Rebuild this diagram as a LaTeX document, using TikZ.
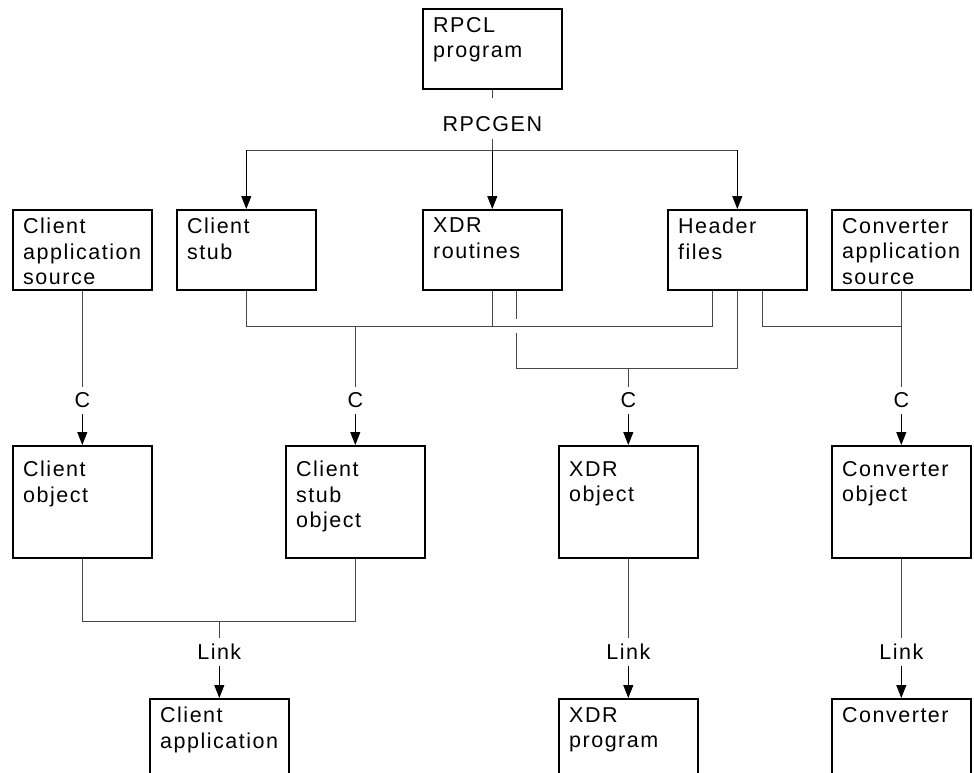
\documentclass[tikz,border=0pt]{standalone}
\usepackage{fontspec}
\setmainfont{Liberation Sans}[LetterSpace=7]
\usetikzlibrary{arrows.meta, positioning, calc}

\begin{document}
\begin{tikzpicture}[x=1pt, y=-1pt,
  txt/.style={anchor=north west, align=left, inner sep=0pt, xshift=11pt, yshift=-9pt, font=\fontsize{21.5}{25.5}\selectfont},
  blk/.style={draw, line width=1.6pt, inner sep=0pt, anchor=north west, minimum width=139pt, minimum height=80pt, label={[txt]north west:{#1}}},
  obj/.style={draw, line width=1.6pt, inner sep=0pt, anchor=north west, minimum width=139pt, minimum height=112pt, label={[txt, yshift=-7pt]north west:{#1}}},
  prog/.style={draw, line width=1.6pt, inner sep=0pt, anchor=north west, minimum width=139pt, minimum height=112pt, label={[txt]north west:{#1}}},
  tag/.style={inner xsep=2pt, inner ysep=6pt, font=\fontsize{21.5}{25.5}\selectfont},
  ln/.style={line width=1pt, draw=black!72},
  arr/.style={line width=1pt, draw=black, -{Triangle[length=13pt, width=10pt]}}
]
  \useasboundingbox (0,0) rectangle (974,772);
  \clip (0,0) rectangle (974,772);

  % generated by rpcgen
  \node[blk={RPCL\\program}] (rpcl) at (422,8) {};
  \node[blk={Client\\application\\source}] (csrc) at (12,209) {};
  \node[blk={Client\\stub}] (stub) at (176,209) {};
  \node[blk={XDR\\routines}] (xdrr) at (422,209) {};
  \node[blk={Header\\files}] (hdr) at (667,209) {};
  \node[blk={Converter\\application\\source}] (vsrc) at (831,209) {};

  % compiled objects
  \node[obj={Client\\object}] (cobj) at (12,445) {};
  \node[obj={Client\\stub\\object}] (sobj) at (285,445) {};
  \node[obj={XDR\\object}] (xobj) at (558,445) {};
  \node[obj={Converter\\object}] (vobj) at (831,445) {};

  % linked programs
  \node[prog={Client\\application}] (capp) at (149,698) {};
  \node[prog={XDR\\program}] (xprog) at (558,698) {};
  \node[prog={Converter}] (vprog) at (831,698) {};

  % rpcgen step
  \node[tag, inner ysep=7pt] (gen) at (rpcl.south |- 0,124.5) {RPCGEN};
  \coordinate (split) at (rpcl.south |- 0,150);
  \draw[ln, shorten >=12pt] (rpcl.south) -- (gen);
  \draw[ln] (gen) -- (split);
  \draw[ln] (stub.north |- split) -- (hdr.north |- split);
  \draw[arr] (stub.north |- split) -- (stub.north);
  \draw[arr] (split) -- (xdrr.north);
  \draw[arr] (hdr.north |- split) -- (hdr.north);

  % C compiles
  \node[tag] (c1) at (csrc.south |- 0,400.5) {C};
  \node[tag] (c2) at (sobj.north |- 0,400.5) {C};
  \node[tag] (c3) at (xobj.north |- 0,400.5) {C};
  \node[tag] (c4) at (vsrc.south |- 0,400.5) {C};

  \coordinate (j1) at (712,326);
  \coordinate (k1) at (516,368);
  \coordinate (k2) at (737,368);
  \coordinate (j3) at (762,326);
  \coordinate (gap1) at (516,319);
  \coordinate (gap2) at (516,333);

  \draw[ln] (csrc.south) -- (c1);
  \draw[ln] (stub.south) -- (stub.south |- j1) -- (j1) -- (j1 |- hdr.south);
  \draw[ln] (xdrr.south) -- (xdrr.south |- j1);
  \draw[ln] (c2 |- j1) -- (c2);
  \draw[ln] (gap1 |- xdrr.south) -- (gap1);
  \draw[ln] (gap2) -- (k1) -- (k2) -- (k2 |- hdr.south);
  \draw[ln] (c3 |- k1) -- (c3);
  \draw[ln] (j3 |- hdr.south) -- (j3) -- (j3 -| vsrc.south);
  \draw[ln] (vsrc.south) -- (c4);
  \draw[arr] (c1) -- (cobj.north);
  \draw[arr] (c2) -- (sobj.north);
  \draw[arr] (c3) -- (xobj.north);
  \draw[arr] (c4) -- (vobj.north);

  % link step
  \node[tag] (l1) at (capp.north |- 0,651.5) {Link};
  \node[tag] (l2) at (xprog.north |- 0,651.5) {Link};
  \node[tag] (l3) at (vprog.north |- 0,651.5) {Link};
  \coordinate (m1) at (cobj.south |- 0,621);
  \draw[ln] (cobj.south) -- (m1) -- (m1 -| sobj.south) -- (sobj.south);
  \draw[ln] (l1 |- m1) -- (l1);
  \draw[ln] (xobj.south) -- (l2);
  \draw[ln] (vobj.south) -- (l3);
  \draw[arr] (l1) -- (capp.north);
  \draw[arr] (l2) -- (xprog.north);
  \draw[arr] (l3) -- (vprog.north);
\end{tikzpicture}
\end{document}
